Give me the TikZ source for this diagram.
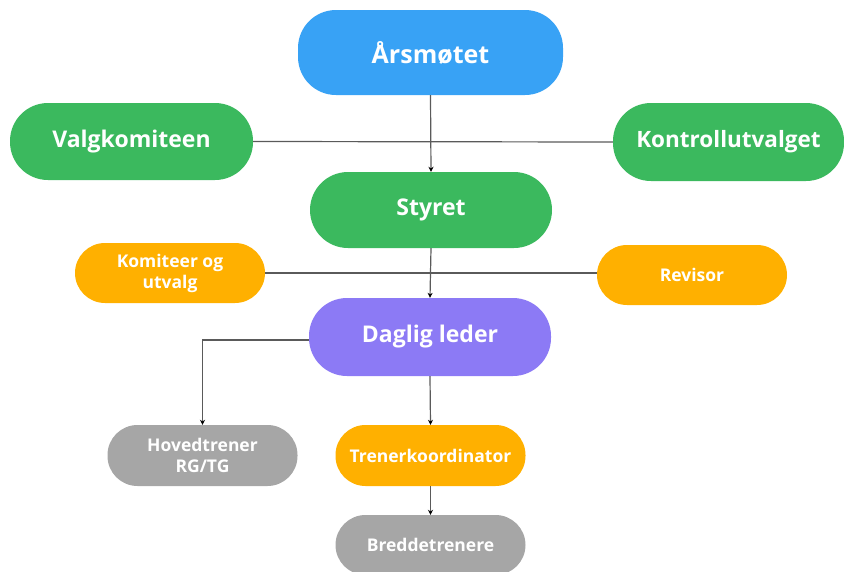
\documentclass[tikz,border=0pt]{standalone}
\usepackage{fontspec}
\setmainfont{Open Sans}
\usetikzlibrary{arrows.meta}
\definecolor{SkyBlue}{RGB}{56,162,245}
\definecolor{LeafGreen}{RGB}{59,185,94}
\definecolor{Amber}{RGB}{255,176,0}
\definecolor{Lavender}{RGB}{140,122,245}
\definecolor{StoneGray}{RGB}{166,166,166}
\definecolor{LineGray}{RGB}{90,90,90}

\begin{document}
\begin{tikzpicture}[x=1pt, y=-1pt,
  pill/.style={text=white, font=\bfseries, align=center, inner sep=0pt},
  bigpill/.style={pill, rounded corners=38pt, font=\bfseries\fontsize{23}{27}\selectfont},
  smallpill/.style={pill, rounded corners=30pt, minimum height=60pt, minimum width=190pt,
                    font=\bfseries\fontsize{17.5}{21}\selectfont},
  link/.style={draw=LineGray, line width=1.2pt},
  arrowlink/.style={link, -{Stealth[length=5pt, width=5pt, black]}}]
  \useasboundingbox (0,0) rectangle (844,571);

  % top level
  \node[bigpill, fill=SkyBlue, minimum width=265pt, minimum height=85pt,
        font=\bfseries\fontsize{25}{29}\selectfont] (aarsmote) at (430.5,52.5) {Årsmøtet};
  \node[bigpill, fill=LeafGreen, minimum width=243pt, minimum height=77pt] (valgkom) at (131.5,141.5) {Valgkomiteen};
  \node[bigpill, fill=LeafGreen, minimum width=231pt, minimum height=78pt,
        font=\bfseries\fontsize{22.5}{26}\selectfont] (kontroll) at (728.5,142) {Kontrollutvalget};
  \node[bigpill, fill=LeafGreen, minimum width=242pt, minimum height=76pt] (styret) at (431,210) {Styret};

  % second level
  \node[smallpill, fill=Amber] (komiteer) at (170,273) {Komiteer og\\utvalg};
  \node[smallpill, fill=Amber] (revisor) at (692,275) {Revisor};
  \node[bigpill, fill=Lavender, minimum width=242pt, minimum height=78pt] (daglig) at (430,337) {Daglig leder};

  % trainers
  \node[smallpill, fill=StoneGray, minimum height=61pt] (hovedtrener) at (202.5,455.5) {Hovedtrener\\RG/TG};
  \node[smallpill, fill=Amber, minimum height=61pt] (koordinator) at (430.5,455.5) {Trenerkoordinator};
  \node[smallpill, fill=StoneGray, minimum height=60pt] (bredde) at (430.5,545) {Breddetrenere};

  % connectors
  \draw[link] (valgkom.east) -- (kontroll.west);
  \draw[link] (komiteer.east) -- (komiteer.east -| revisor.west);
  \draw[arrowlink] (aarsmote.south) -- (styret.north);
  \draw[arrowlink] (styret.south) -- (daglig.north);
  \draw[arrowlink] ([yshift=-3pt]daglig.west) -| (hovedtrener.north);
  \draw[arrowlink] (daglig.south) -- (koordinator.north);
  \draw[arrowlink] (koordinator.south) -- (bredde.north);
\end{tikzpicture}
\end{document}
